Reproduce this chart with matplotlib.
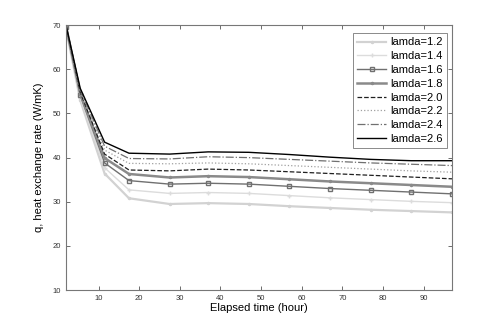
import matplotlib
matplotlib.use("Agg")
import matplotlib.pyplot as plt

plt.rcParams['font.family'] = ['Liberation Sans', 'DejaVu Sans']

hours = [2, 5.5, 11.5, 17.5, 27.5, 37, 47, 57, 67, 77, 87, 97]
q_12 = [69.2, 53.0, 36.4, 30.8, 29.5, 29.7, 29.5, 29.0, 28.6, 28.2, 27.9, 27.6]
q_14 = [69.4, 53.6, 37.7, 32.7, 31.9, 32.1, 31.9, 31.4, 30.9, 30.5, 30.1, 29.8]
q_16 = [69.6, 54.1, 38.8, 34.8, 34.0, 34.2, 34.0, 33.5, 33.0, 32.6, 32.2, 31.8]
q_18 = [69.8, 54.5, 39.9, 36.3, 35.5, 35.8, 35.6, 35.1, 34.6, 34.2, 33.8, 33.4]
q_20 = [69.9, 54.8, 40.8, 37.2, 37.0, 37.4, 37.2, 36.8, 36.4, 36.0, 35.6, 35.2]
q_22 = [70.0, 55.1, 41.7, 38.7, 38.6, 38.8, 38.6, 38.2, 37.8, 37.4, 37.0, 36.7]
q_24 = [70.0, 55.4, 42.6, 39.8, 39.7, 40.2, 40.0, 39.6, 39.2, 38.8, 38.5, 38.2]
q_26 = [70.0, 55.7, 43.5, 41.0, 40.8, 41.3, 41.2, 40.7, 40.1, 39.6, 39.3, 39.3]
labels = ["lamda=1.2", "lamda=1.4", "lamda=1.6", "lamda=1.8",
          "lamda=2.0", "lamda=2.2", "lamda=2.4", "lamda=2.6"]
series = [q_12, q_14, q_16, q_18, q_20, q_22, q_24, q_26]

styles = [
    dict(color='#d2d2d2', lw=1.6, ls='-', marker='.', ms=3),
    dict(color='#dcdcdc', lw=1.0, ls='-', marker='+', ms=3),
    dict(color='#707070', lw=1.0, ls='-', marker='s', ms=2.5, mfc='none'),
    dict(color='#8a8a8a', lw=1.8, ls='-', marker='.', ms=3),
    dict(color='#202020', lw=0.9, ls='--'),
    dict(color='#a0a0a0', lw=0.9, ls=':'),
    dict(color='#707070', lw=0.9, ls='-.'),
    dict(color='#000000', lw=1.0, ls='-'),
]

fig = plt.figure(figsize=(5.0, 3.26), dpi=100)
ax = fig.add_axes([0.132, 0.110, 0.772, 0.813])

for y, lab, st in zip(series, labels, styles):
    ax.plot(hours, y, label=lab, **st)

ax.set_xlim(2, 97)
ax.set_ylim(10, 70)
ax.set_xticks(range(10, 91, 10))
ax.set_yticks(range(10, 71, 10))
ax.tick_params(direction='in', top=True, right=True, labelsize=5.5,
               colors='#555555', length=3, width=0.6, labelcolor='#333333')
for sp in ax.spines.values():
    sp.set_color('#777777')
    sp.set_linewidth(0.8)

ax.set_xlabel("Elapsed time (hour)", fontsize=8, labelpad=1)
ax.set_ylabel("q, heat exchange rate (W/mK)", fontsize=8, labelpad=6)

leg = ax.legend(loc='upper right', bbox_to_anchor=(0.988, 0.97), borderaxespad=0,
                fontsize=8, frameon=True, fancybox=False,
                handlelength=2.6, handletextpad=0.4, labelspacing=0.34,
                borderpad=0.4, edgecolor='#555555')
leg.get_frame().set_linewidth(0.6)

fig.savefig("out.png", dpi=100)
